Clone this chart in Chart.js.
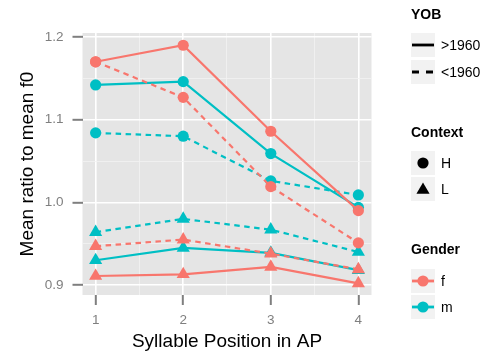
<!DOCTYPE html>
<html>
<head>
<meta charset="utf-8">
<script src="https://cdn.jsdelivr.net/npm/chart.js@4"></script>
<style>
html,body{margin:0;padding:0;background:#fff;}
#wrap{width:492px;height:354px;position:relative;}
</style>
</head>
<body>
<div id="wrap"><canvas id="c" width="492" height="354"></canvas></div>
<script>
// ---- data ----
const positions = [1, 2, 3, 4];
const xTicks = [1, 2, 3, 4];
const yTicks = [0.9, 1.0, 1.1, 1.2];
const fH_after1960  = [1.170, 1.190, 1.086, 0.990];
const fH_before1960 = [1.170, 1.127, 1.019, 0.951];
const mH_after1960  = [1.142, 1.146, 1.059, 0.994];
const mH_before1960 = [1.084, 1.080, 1.026, 1.009];
const fL_after1960  = [0.911, 0.913, 0.922, 0.902];
const fL_before1960 = [0.947, 0.955, 0.938, 0.919];
const mL_after1960  = [0.930, 0.945, 0.939, 0.918];
const mL_before1960 = [0.964, 0.980, 0.967, 0.940];
const yobLabels = ['>1960', '<1960'];
const contextLabels = ['H', 'L'];
const genderLabels = ['f', 'm'];

const RED = '#F8766D', CYAN = '#00BFC4';
const toPts = arr => arr.map((v, i) => ({x: positions[i], y: v}));

function ds(values, color, dashed, context) {
  const tri = context === 'L';
  return {
    data: toPts(values),
    borderColor: color,
    backgroundColor: color,
    borderWidth: 2.2,
    borderDash: dashed ? [5.5, 4.5] : [],
    pointStyle: tri ? 'triangle' : 'circle',
    pointRadius: tri ? 7.6 : 5.6,
    pointHoverRadius: tri ? 7.6 : 5.6,
    pointBorderWidth: 0,
    tension: 0
  };
}

const datasets = [
  ds(fH_after1960, RED, false, 'H'),
  ds(fH_before1960, RED, true, 'H'),
  ds(fL_after1960, RED, false, 'L'),
  ds(fL_before1960, RED, true, 'L'),
  ds(mH_after1960, CYAN, false, 'H'),
  ds(mH_before1960, CYAN, true, 'H'),
  ds(mL_after1960, CYAN, false, 'L'),
  ds(mL_before1960, CYAN, true, 'L')
];

const FONT = '"Liberation Sans", Arial, Helvetica, sans-serif';
const isMajor = (v, majors) => majors.some(m => Math.abs(m - v) < 1e-6);

const bgPlugin = {
  id: 'panelBg',
  beforeDraw(chart) {
    const {ctx, chartArea: a} = chart;
    ctx.save();
    ctx.fillStyle = '#E5E5E5';
    ctx.fillRect(a.left, a.top, a.right - a.left, a.bottom - a.top);
    ctx.restore();
  }
};

const legendPlugin = {
  id: 'ggLegend',
  afterDraw(chart) {
    const ctx = chart.ctx;
    const kx = 411, kw = 24, kh = 24, lx = 441;
    ctx.save();
    function title(t, y) {
      ctx.font = 'bold 14px ' + FONT;
      ctx.fillStyle = '#000';
      ctx.textBaseline = 'middle';
      ctx.textAlign = 'left';
      ctx.fillText(t, 411, y);
    }
    function key(y, drawFn, label) {
      ctx.fillStyle = '#F2F2F2';
      ctx.fillRect(kx, y - kh / 2, kw, kh);
      drawFn(kx + kw / 2, y);
      ctx.font = '14px ' + FONT;
      ctx.fillStyle = '#000';
      ctx.textBaseline = 'middle';
      ctx.textAlign = 'left';
      ctx.fillText(label, lx, y + 1);
    }
    function line(cx, cy, color, dash) {
      ctx.strokeStyle = color; ctx.lineWidth = 2.8;
      ctx.setLineDash(dash);
      ctx.beginPath(); ctx.moveTo(cx - 11, cy); ctx.lineTo(cx + 11, cy); ctx.stroke();
      ctx.setLineDash([]);
    }
    function circle(cx, cy, color, r) {
      ctx.fillStyle = color; ctx.beginPath(); ctx.arc(cx, cy, r, 0, Math.PI * 2); ctx.fill();
    }
    function triangle(cx, cy, color) {
      const r = 7.6;
      ctx.fillStyle = color; ctx.beginPath();
      ctx.moveTo(cx, cy - r);
      ctx.lineTo(cx + r * Math.sin(Math.PI / 3), cy + r / 2);
      ctx.lineTo(cx - r * Math.sin(Math.PI / 3), cy + r / 2);
      ctx.closePath(); ctx.fill();
    }
    title('YOB', 15);
    key(45, (x, y) => line(x, y, '#000', []), yobLabels[0]);
    key(72, (x, y) => line(x, y, '#000', [7, 7]), yobLabels[1]);
    title('Context', 133);
    key(163, (x, y) => circle(x, y, '#000', 5.6), contextLabels[0]);
    key(189, (x, y) => triangle(x, y + 1, '#000'), contextLabels[1]);
    title('Gender', 250);
    key(281, (x, y) => { line(x, y, RED, []); circle(x, y, RED, 5.6); }, genderLabels[0]);
    key(307, (x, y) => { line(x, y, CYAN, []); circle(x, y, CYAN, 5.6); }, genderLabels[1]);
    ctx.restore();
  }
};

new Chart(document.getElementById('c'), {
  type: 'line',
  data: {datasets},
  plugins: [bgPlugin, legendPlugin],
  options: {
    responsive: false,
    animation: false,
    events: [],
    layout: {padding: {top: 33, right: 120.5, left: 0, bottom: 0}},
    plugins: {legend: {display: false}, tooltip: {enabled: false}},
    scales: {
      x: {
        type: 'linear',
        min: 0.85, max: 4.15,
        afterBuildTicks(s) {
          const all = [];
          xTicks.forEach((v, i) => { all.push({value: v}); if (i < xTicks.length - 1) all.push({value: (v + xTicks[i + 1]) / 2}); });
          s.ticks = all;
        },
        afterFit(s) { s.height = 59; },
        border: {display: false},
        grid: {
          color: c => isMajor(c.tick.value, xTicks) ? '#FFFFFF' : '#F2F2F2',
          lineWidth: c => isMajor(c.tick.value, xTicks) ? 1.6 : 0.8,
          tickColor: c => isMajor(c.tick.value, xTicks) ? '#7F7F7F' : 'rgba(0,0,0,0)',
          tickWidth: 2,
          tickLength: 10,
          drawTicks: true
        },
        ticks: {
          autoSkip: false,
          maxRotation: 0,
          padding: 7,
          color: '#7F7F7F',
          font: {family: FONT, size: 13.5},
          callback: v => isMajor(v, xTicks) ? String(v) : ''
        },
        title: {
          display: true,
          text: 'Syllable Position in AP',
          color: '#000',
          font: {family: FONT, size: 19},
          padding: {top: 0, bottom: 1}
        }
      },
      y: {
        type: 'linear',
        min: 0.888, max: 1.2048,
        afterBuildTicks(s) {
          const all = [];
          yTicks.forEach((v, i) => { all.push({value: v}); if (i < yTicks.length - 1) all.push({value: (v + yTicks[i + 1]) / 2}); });
          s.ticks = all;
        },
        afterFit(s) { s.width = 82.5; },
        border: {display: false},
        grid: {
          color: c => isMajor(c.tick.value, yTicks) ? '#FFFFFF' : '#F2F2F2',
          lineWidth: c => isMajor(c.tick.value, yTicks) ? 1.6 : 0.8,
          tickColor: c => isMajor(c.tick.value, yTicks) ? '#7F7F7F' : 'rgba(0,0,0,0)',
          tickWidth: 2,
          tickLength: 10,
          drawTicks: true
        },
        ticks: {
          autoSkip: false,
          padding: 9,
          color: '#7F7F7F',
          font: {family: FONT, size: 13.5},
          callback: v => isMajor(v, yTicks) ? v.toFixed(1) : ''
        },
        title: {
          display: true,
          text: 'Mean ratio to mean f0',
          color: '#000',
          font: {family: FONT, size: 19},
          padding: {top: 16, bottom: 0}
        }
      }
    }
  }
});
</script>
</body>
</html>
